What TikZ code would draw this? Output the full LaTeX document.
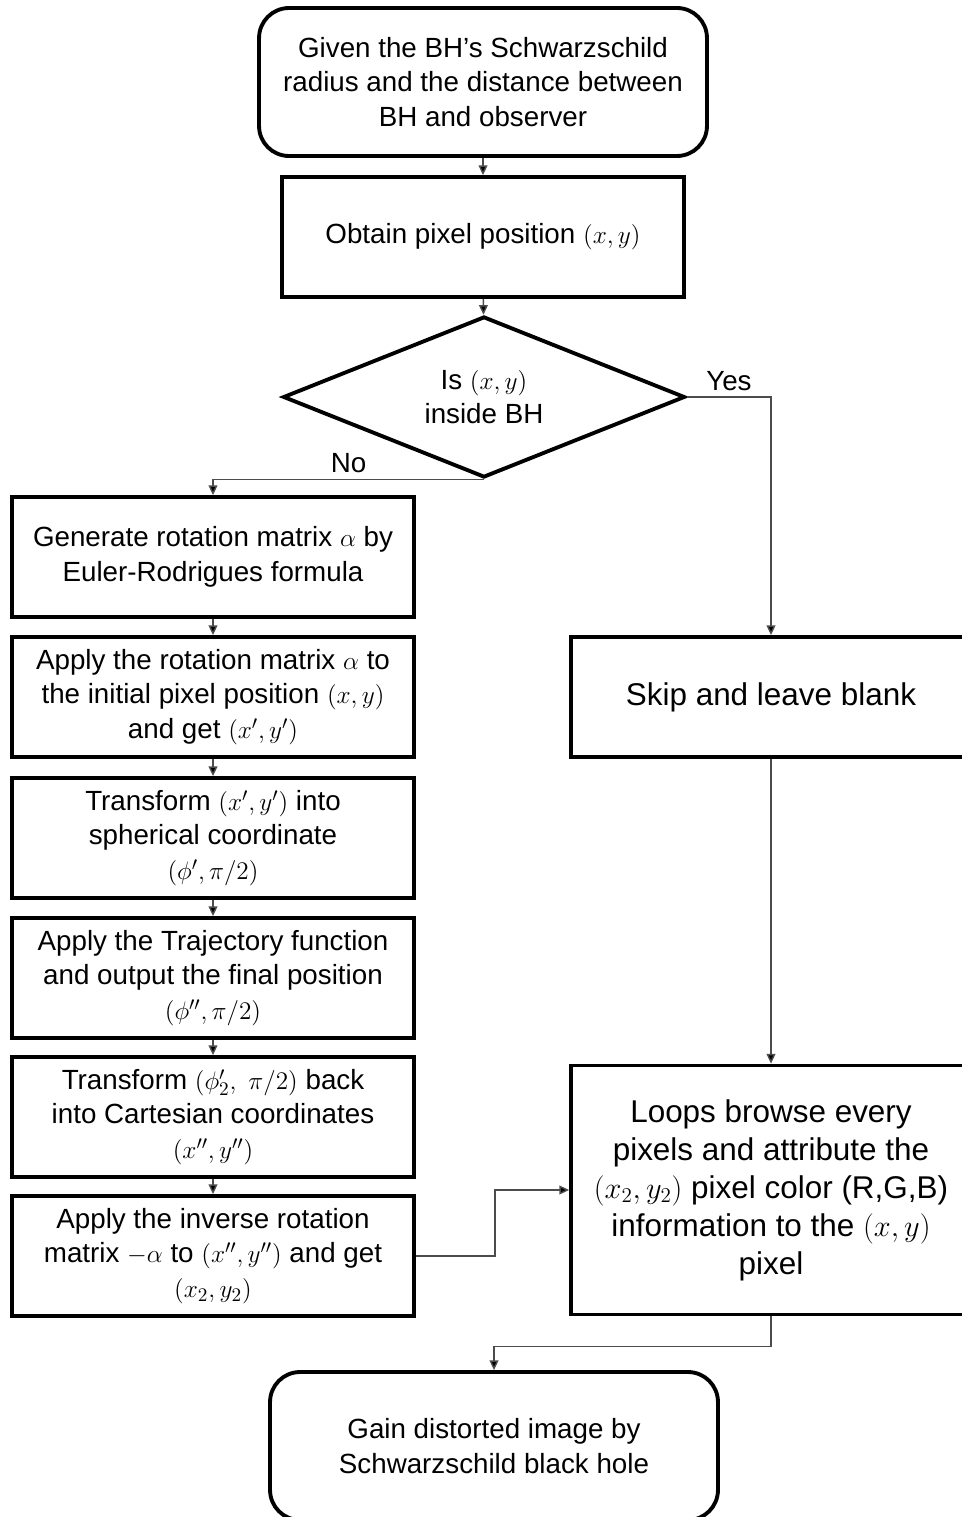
\documentclass[tikz,border=0pt]{standalone}
\usepackage{fontspec}
\setmainfont{Liberation Sans}
\usetikzlibrary{arrows.meta, positioning, shapes.geometric}

\begin{document}
\begin{tikzpicture}[
        x=0.02cm, y=-0.02cm,
        txt/.style={align=center, font=\fontsize{15.8}{19.6}\selectfont},
        bigtxt/.style={align=center, font=\fontsize{17.9}{21.6}\selectfont},
        procbox/.style={draw, line width=2.2pt, txt, inner sep=0pt,
            minimum width=8.04cm, minimum height=2.4cm},
        termbox/.style={procbox, rounded corners=0.6cm,
            minimum width=8.96cm, minimum height=2.96cm},
        decbox/.style={diamond, draw, line width=2.2pt, txt, inner sep=0pt,
            aspect=2.5, minimum width=8.04cm, minimum height=3.22cm},
        conn/.style={draw=black!70, line width=0.8pt,
            -{Triangle[length=5.5pt, width=5pt, fill=black]}},
    ]
        \useasboundingbox (0,0) rectangle (962,1517);
        \clip (0,0) rectangle (962,1517);

        \node[termbox] (given) at (483,82) {Given the BH's Schwarzschild\\radius and the distance between\\BH and observer};
        \node[procbox] (obtain) at (483,237) {Obtain pixel position $(x,y)$};
        \node[decbox] (inside) at (484,397) {Is $(x,y)$\\inside BH};

        \node[procbox] (gen) at (213,557) {Generate rotation matrix $\alpha$ by\\Euler-Rodrigues formula};
        \node[procbox] (rot) at (213,697) {Apply the rotation matrix $\alpha$ to\\the initial pixel position $(x,y)$\\and get $(x',y')$};
        \node[procbox] (sph) at (213,838) {Transform $(x',y')$ into\\spherical coordinate\\$(\phi',\pi/2)$};
        \node[procbox] (traj) at (213,978) {Apply the Trajectory function\\and output the final position\\$(\phi'',\pi/2)$};
        \node[procbox] (cart) at (213,1117) {Transform $(\phi'_2,\ \pi/2)$ back\\into Cartesian coordinates\\$(x'',y'')$};
        \node[procbox] (inv) at (213,1256) {Apply the inverse rotation\\matrix $-\alpha$ to $(x'',y'')$ and get\\$(x_2,y_2)$};

        \node[procbox, bigtxt, minimum width=8cm] (skip) at (771,697) {Skip and leave blank};
        \node[procbox, bigtxt, minimum width=8cm, minimum height=4.98cm] (loops) at (771,1190)
            {Loops browse every\\pixels and attribute the\\$(x_2,y_2)$ pixel color (R,G,B)\\information to the $(x,y)$\\pixel};

        \node[termbox] (gain) at (494,1446) {Gain distorted image by\\Schwarzschild black hole};

        % main column
        \draw[conn] (given) -- (obtain);
        \draw[conn] (obtain) -- (inside);
        \draw[conn] (inside.east) -| node[pos=0.25, above, txt] {Yes} (skip);
        \draw[conn] (inside.south) -| node[pos=0.25, above, txt] {No} (gen);
        \draw[conn] (gen) -- (rot);
        \draw[conn] (rot) -- (sph);
        \draw[conn] (sph) -- (traj);
        \draw[conn] (traj) -- (cart);
        \draw[conn] (cart) -- (inv);
        \draw[conn] (inv.east) -- ++(79,0) |- (loops.west);
        \draw[conn] (skip) -- (loops);
        \draw[conn] (loops.south) -- ++(0,30) -| (gain);
    \end{tikzpicture}
\end{document}
